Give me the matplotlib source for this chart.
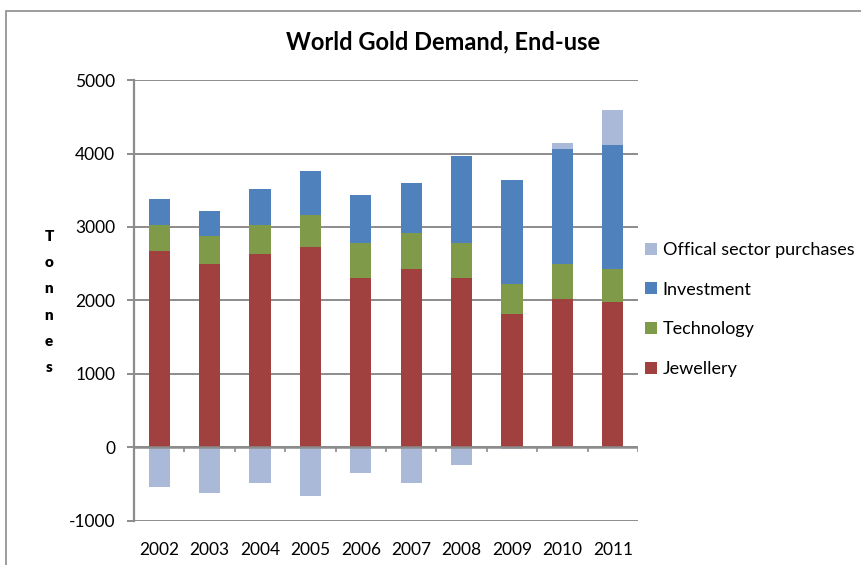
import matplotlib.pyplot as plt
import numpy as np
from matplotlib.patches import Rectangle

plt.rcParams['font.family'] = ['Lato', 'DejaVu Sans']
plt.rcParams['axes.unicode_minus'] = False

years = ['2002', '2003', '2004', '2005', '2006', '2007', '2008', '2009', '2010', '2011']
jewellery = [2669, 2492, 2628, 2728, 2308, 2425, 2308, 1823, 2027, 1982]
technology = [362, 381, 403, 430, 469, 493, 469, 403, 471, 452]
investment = [344, 344, 489, 602, 661, 679, 1187, 1412, 1565, 1683]
official = [-535, -616, -480, -657, -353, -480, -236, -27, 86, 475]

colours = {
    'Jewellery': '#A0413F',
    'Technology': '#7F9A48',
    'Investment': '#4F81BD',
    'Offical sector purchases': '#AAB9D7',
}


def main():
    fig = plt.figure(figsize=(8.61, 5.65), dpi=100)
    ax = fig.add_axes([0.1556, 0.0779, 0.5854, 0.7805])

    # outer chart border
    fig.patches.append(Rectangle((6 / 861, -0.1), 1.2, 1.0805, transform=fig.transFigure,
                                 fill=False, edgecolor='#8C8C8C', linewidth=1.2))

    x = np.arange(len(years))
    w = 0.42
    jew = np.array(jewellery)
    tech = np.array(technology)
    inv = np.array(investment)
    off = np.array(official)

    ax.bar(x, jew, w, color=colours['Jewellery'], label='Jewellery', zorder=3)
    ax.bar(x, tech, w, bottom=jew, color=colours['Technology'], label='Technology', zorder=3)
    ax.bar(x, inv, w, bottom=jew + tech, color=colours['Investment'], label='Investment', zorder=3)
    # official sector: sales go below zero, purchases stack on top
    off_bottom = np.where(off > 0, jew + tech + inv, 0)
    ax.bar(x, off, w, bottom=off_bottom, color=colours['Offical sector purchases'],
           label='Offical sector purchases', zorder=3)

    ax.set_xlim(-0.5, len(years) - 0.5)
    ax.set_ylim(-1000, 5000)
    ax.set_yticks(range(-1000, 5001, 1000))
    ax.grid(axis='y', color='#8C8C8C', linewidth=1.4, zorder=0)
    ax.axhline(0, color='#8C8C8C', linewidth=1.8, zorder=4)
    ax.vlines(np.arange(0.5, len(years)), -60, 0, color='#8C8C8C', linewidth=1.2, zorder=4)

    for s in ['top', 'right', 'bottom']:
        ax.spines[s].set_visible(False)
    ax.spines['left'].set_color('#8C8C8C')
    ax.spines['left'].set_linewidth(1.6)

    ax.set_xticks(x)
    ax.set_xticklabels(years)
    ax.tick_params(axis='x', length=0, pad=15, labelsize=12.5)
    ax.tick_params(axis='y', length=5, width=1.4, color='#8C8C8C', pad=8.5, labelsize=12.5)

    fig.text(443 / 861, 1 - 42 / 565, 'World Gold Demand, End-use', ha='center', va='center',
             fontsize=17, fontweight='bold')

    fig.text(49 / 861, 1 - 302 / 565, '\n'.join('Tonnes'), ha='center', va='center',
             fontsize=11, fontweight='heavy', linespacing=2.2)

    handles, labels = ax.get_legend_handles_labels()
    ax.legend(handles[::-1], labels[::-1], loc='center left',
              bbox_to_anchor=(638 / 861, 1 - 309.5 / 565), bbox_transform=fig.transFigure,
              frameon=False, fontsize=13, handlelength=0.67, handleheight=0.67,
              handletextpad=0.3, labelspacing=1.31, borderaxespad=0)

    fig.savefig('out.png', dpi=100)


if __name__ == "__main__":
    main()
